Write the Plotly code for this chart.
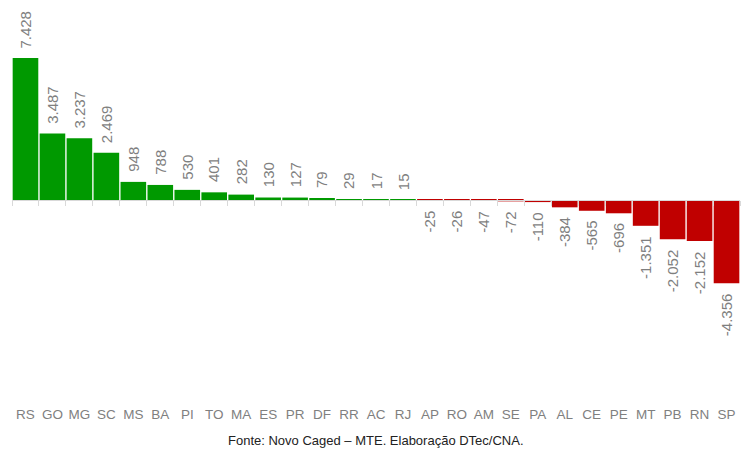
import plotly.graph_objects as go

states = ["RS", "GO", "MG", "SC", "MS", "BA", "PI", "TO", "MA", "ES", "PR", "DF", "RR", "AC", "RJ",
          "AP", "RO", "AM", "SE", "PA", "AL", "CE", "PE", "MT", "PB", "RN", "SP"]
saldo = [7428, 3487, 3237, 2469, 948, 788, 530, 401, 282, 130, 127, 79, 29, 17, 15,
         -25, -26, -47, -72, -110, -384, -565, -696, -1351, -2052, -2152, -4356]
source_text = "Fonte: Novo Caged – MTE. Elaboração DTec/CNA."

GREEN = "#009900"
RED = "#C00000"
GRAY = "#7f7f7f"
AXIS = "#d9d9d9"
FONT = "Liberation Sans Narrow, Liberation Sans, Arial, sans-serif"

def fmt(v):
    return f"{v:,}".replace(",", ".")

colors = [GREEN if v >= 0 else RED for v in saldo]

ymin, ymax = -10681, 10052
zero_pos = (0 - ymin) / (ymax - ymin)

fig = go.Figure()
fig.add_trace(go.Bar(x=list(range(len(states))), y=saldo, marker=dict(color=colors, line=dict(width=0)),
                     showlegend=False, hoverinfo="skip"))
fig.add_trace(go.Scatter(x=[], y=[], xaxis="x2", yaxis="y", showlegend=False))

annotations = []
for i, v in enumerate(saldo):
    annotations.append(dict(
        x=i, y=v, xref="x", yref="y", text=fmt(v), showarrow=False, textangle=-90,
        yanchor="bottom" if v >= 0 else "top", yshift=8 if v >= 0 else -8,
        font=dict(family=FONT, size=15, color=GRAY)))
annotations.append(dict(
    x=0.5, y=-0.0934, xref="paper", yref="paper", text=source_text, showarrow=False,
    xanchor="center", yanchor="middle", font=dict(family=FONT, size=13, color="#222222")))

fig.update_layout(
    width=744, height=451,
    margin=dict(l=4, r=12, t=0, b=55),
    plot_bgcolor="white", paper_bgcolor="white",
    bargap=0.05,
    xaxis=dict(range=[-0.5, len(states) - 0.5], tickmode="array",
               tickvals=list(range(len(states))), ticktext=states,
               tickangle=0, automargin=False,
               showgrid=False, zeroline=False, showline=False, ticks="",
               tickfont=dict(family=FONT, size=13.5, color=GRAY)),
    xaxis2=dict(overlaying="x", anchor="free", position=zero_pos,
                range=[-0.5, len(states) - 0.5], tickmode="array",
                tickvals=[i - 0.5 for i in range(len(states) + 1)],
                showticklabels=False, ticks="outside", ticklen=5, tickcolor=AXIS, tickwidth=1,
                showline=True, linecolor=AXIS, linewidth=1, showgrid=False, zeroline=False),
    yaxis=dict(range=[ymin, ymax], visible=False, showgrid=False, zeroline=False, automargin=False),
    annotations=annotations,
)

fig.write_html("out.html")
